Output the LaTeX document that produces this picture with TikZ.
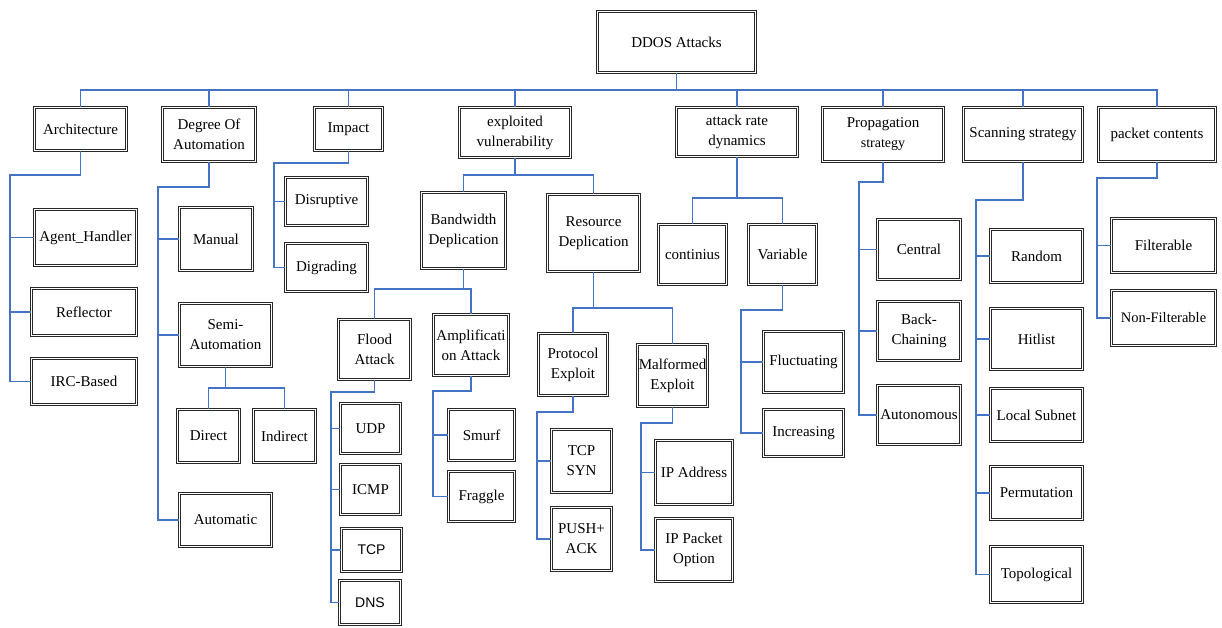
\documentclass[tikz,border=0pt]{standalone}
\usepackage{fontspec}
\setmainfont{Liberation Serif}
\newfontfamily\sansf{Liberation Sans}
\definecolor{connblue}{RGB}{68,114,196}
\definecolor{boxgray}{RGB}{40,40,40}
\tikzset{
  bx/.style={draw=boxgray, double=white, double distance=1.4pt, line width=0.95pt,
    inner sep=0pt, align=center, font=\fontsize{15}{20}\selectfont, text=black},
  conn/.style={draw=connblue, line width=1.15pt}
}
\newcommand\tbox[7][]{\node[bx,#1,minimum width=#5pt-#3pt-3.2pt,minimum height=#6pt-#4pt-3.2pt] (#2) at ({(#3+#5)/2},{(#4+#6)/2}) {#7};}
\begin{document}
\begin{tikzpicture}[x=1pt,y=-1pt]
\useasboundingbox (0,0) rectangle (1222,627);
% top level
\tbox{root}{596}{10}{757}{74}{DDOS Attacks}
\tbox{arch}{33}{106}{128}{152}{Architecture}
\tbox{doa}{161}{106}{257}{163}{Degree Of\\Automation}
\tbox{imp}{313}{106}{384}{152}{Impact}
\tbox{ev}{458}{106}{572}{159}{exploited\\vulnerability}
\tbox{ard}{675}{106}{799}{158}{attack rate\\dynamics}
\tbox{ps}{821}{106}{945}{163}{Propagation\\{\fontsize{14}{18}\selectfont strategy}}
\tbox{ss}{962}{106}{1084}{163}{Scanning strategy}
\tbox{pc}{1097}{106}{1217}{163}{packet contents}
% architecture
\tbox{ah}{33}{208}{138}{267}{Agent\_Handler}
\tbox{refl}{30}{287}{138}{337}{Reflector}
\tbox{irc}{30}{357}{138}{406}{IRC-Based}
% degree of automation
\tbox{man}{178}{206}{254}{272}{Manual}
\tbox{semi}{178}{302}{273}{368}{Semi-\\Automation}
\tbox{auto}{178}{492}{273}{548}{Automatic}
\tbox{dir}{176}{408}{241}{464}{Direct}
\tbox{ind}{252}{408}{317}{464}{Indirect}
% impact
\tbox{dis}{284}{176}{369}{227}{Disruptive}
\tbox{dig}{284}{242}{369}{293}{Digrading}
% exploited vulnerability
\tbox{bw}{420}{191}{507}{270}{Bandwidth\\Deplication}
\tbox{rd}{546}{193}{641}{273}{Resource\\Deplication}
\tbox{fl}{337}{318}{412}{381}{Flood\\Attack}
\tbox{amp}{432}{313}{510}{377}{Amplificati\\on Attack}
\tbox{udp}{339}{402}{402}{455}{UDP}
\tbox{icmp}{339}{463}{402}{516}{ICMP}
\tbox[font=\sansf\fontsize{14}{18}\selectfont]{tcp}{340}{527}{403}{573}{TCP}
\tbox[font=\sansf\fontsize{14}{18}\selectfont]{dns}{338}{579}{402}{626}{DNS}
\tbox{smurf}{447}{408}{516}{462}{Smurf}
\tbox{frag}{447}{470}{516}{523}{Fraggle}
\tbox{pe}{537}{332}{609}{397}{Protocol\\Exploit}
\tbox{me}{636}{343}{709}{408}{Malformed\\Exploit}
\tbox{syn}{550}{428}{613}{494}{TCP\\SYN}
\tbox{push}{550}{506}{613}{572}{PUSH+\\ACK}
\tbox{ipa}{654}{439}{734}{506}{IP Address}
\tbox{ipo}{654}{517}{734}{583}{IP Packet\\Option}
% attack rate dynamics
\tbox{cont}{657}{223}{728}{286}{continius}
\tbox{var}{747}{223}{818}{286}{Variable}
\tbox{fluc}{762}{330}{845}{394}{Fluctuating}
\tbox{inc}{762}{408}{845}{458}{Increasing}
% propagation
\tbox{cen}{876}{218}{962}{281}{Central}
\tbox{back}{876}{300}{962}{362}{Back-\\Chaining}
\tbox{autn}{876}{384}{962}{446}{Autonomous}
% scanning
\tbox{rand}{989}{228}{1084}{284}{Random}
\tbox{hit}{989}{307}{1084}{371}{Hitlist}
\tbox{local}{989}{387}{1084}{443}{Local Subnet}
\tbox{perm}{989}{465}{1084}{521}{Permutation}
\tbox{topo}{989}{545}{1084}{604}{Topological}
% packet contents
\tbox{filt}{1110}{217}{1217}{274}{Filterable}
\tbox[font=\fontsize{14.5}{18}\selectfont]{nonf}{1110}{289}{1217}{347}{Non-Filterable}
% coordinates for buses and rails
\coordinate (bus) at (0,90);
\coordinate (archr) at (10,175);
\coordinate (doar) at (158,187);
\coordinate (semis) at (0,388);
\coordinate (impr) at (274,163);
\coordinate (evs) at (0,175);
\coordinate (bws) at (0,289);
\coordinate (flr) at (331,392);
\coordinate (ampr) at (433,391);
\coordinate (rds) at (0,308);
\coordinate (per) at (537,412);
\coordinate (mer) at (641,423);
\coordinate (ards) at (0,198);
\coordinate (varr) at (741,310);
\coordinate (psr) at (859,182);
\coordinate (ssr) at (976,200);
\coordinate (pcr) at (1097,178);
% top bus
\draw[conn] (root.south) -- (root.south |- bus);
\draw[conn] (arch.north) |- (pc.north |- bus) -- (pc.north);
\foreach \n in {doa,imp,ev,ard,ps,ss} \draw[conn] (\n.north) -- (\n.north |- bus);
% architecture
\draw[conn] (arch.south) |- (archr) |- (irc.west);
\foreach \n in {ah,refl} \draw[conn] (\n.west) -- (\n.west -| archr);
% degree of automation
\draw[conn] (doa.south) |- (doar) |- (auto.west);
\foreach \n in {man,semi} \draw[conn] (\n.west) -- (\n.west -| doar);
\draw[conn] (semi.south) -- (semi.south |- semis);
\draw[conn] (dir.north) |- (ind.north |- semis) -- (ind.north);
% impact
\draw[conn] (imp.south) |- (impr) |- (dig.west);
\draw[conn] (dis.west) -- (dis.west -| impr);
% exploited vulnerability
\draw[conn] (ev.south) -- (ev.south |- evs);
\draw[conn] (bw.north) |- (rd.north |- evs) -- (rd.north);
\draw[conn] (bw.south) -- (bw.south |- bws);
\draw[conn] (fl.north) |- (amp.north |- bws) -- (amp.north);
\draw[conn] (fl.south) |- (flr) |- (dns.west);
\foreach \n in {udp,icmp,tcp} \draw[conn] (\n.west) -- (\n.west -| flr);
\draw[conn] (amp.south) |- (ampr) |- (frag.west);
\draw[conn] (smurf.west) -- (smurf.west -| ampr);
\draw[conn] (rd.south) -- (rd.south |- rds);
\draw[conn] (pe.north) |- (me.north |- rds) -- (me.north);
\draw[conn] (pe.south) |- (per) |- (push.west);
\draw[conn] (syn.west) -- (syn.west -| per);
\draw[conn] (me.south) |- (mer) |- (ipo.west);
\draw[conn] (ipa.west) -- (ipa.west -| mer);
% attack rate dynamics
\draw[conn] (ard.south) -- (ard.south |- ards);
\draw[conn] (cont.north) |- (var.north |- ards) -- (var.north);
\draw[conn] (var.south) |- (varr) |- (inc.west);
\draw[conn] (fluc.west) -- (fluc.west -| varr);
% propagation
\draw[conn] (ps.south) |- (psr) |- (autn.west);
\foreach \n in {cen,back} \draw[conn] (\n.west) -- (\n.west -| psr);
% scanning
\draw[conn] (ss.south) |- (ssr) |- (topo.west);
\foreach \n in {rand,hit,local,perm} \draw[conn] (\n.west) -- (\n.west -| ssr);
% packet contents
\draw[conn] (pc.south) |- (pcr) |- (nonf.west);
\draw[conn] (filt.west) -- (filt.west -| pcr);
\end{tikzpicture}
\end{document}
